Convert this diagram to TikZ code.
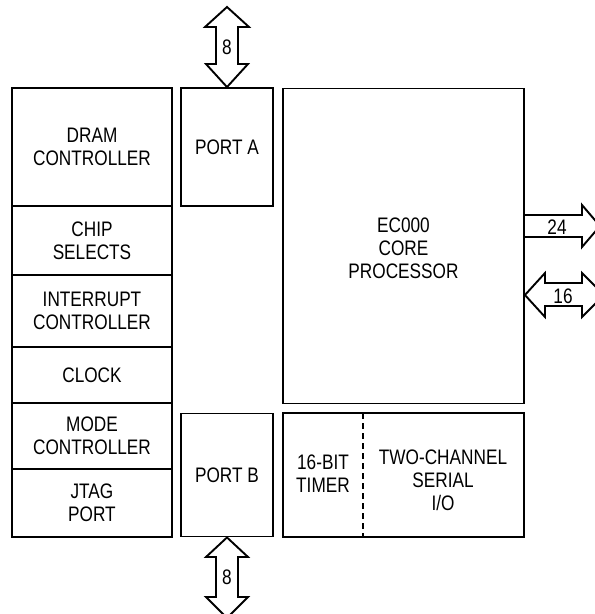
\documentclass[tikz,border=0pt]{standalone}
\usepackage{fontspec}
\setmainfont{Liberation Sans}[FakeStretch=0.82]
\begin{document}
\begin{tikzpicture}[x=1pt,y=-1pt,
  box/.style={draw, line width=1.9pt, rectangle, align=center, inner sep=0pt,
    font=\fontsize{21}{23}\selectfont},
  lbl/.style={font=\fontsize{21}{23}\selectfont, align=center, inner sep=0pt},
  blk/.style={draw, line width=1.9pt, line join=miter},
  num/.style={font=\fontsize{21}{24}\selectfont, inner sep=0pt}]
\useasboundingbox (0,0) rectangle (595,614);
% left column
\node[box, minimum width=160pt, minimum height=118pt] (dram) at (92,147) {DRAM\\CONTROLLER};
\node[box, minimum width=160pt, minimum height=69pt] (cs) at (92,240.5) {CHIP\\SELECTS};
\node[box, minimum width=160pt, minimum height=72pt] (irq) at (92,311) {INTERRUPT\\CONTROLLER};
\node[box, minimum width=160pt, minimum height=56pt] (clk) at (92,375) {CLOCK};
\node[box, minimum width=160pt, minimum height=66pt] (mode) at (92,436) {MODE\\CONTROLLER};
\node[box, minimum width=160pt, minimum height=68pt] (jtag) at (92,503) {JTAG\\PORT};
% ports
\node[box, minimum width=92pt, minimum height=118pt] (pa) at (227,147) {PORT A};
\node[box, minimum width=92pt, minimum height=123pt] (pb) at (227,475) {PORT B};
% core
\node[box, minimum width=241pt, minimum height=315pt] (core) at (403.5,246) {};
\node[lbl] (coret) at (403.5,248) {EC000\\CORE\\PROCESSOR};
% timer / serial
\node[box, minimum width=241pt, minimum height=124pt] (ts) at (403.5,475) {};
\coordinate (dtop) at (363,413);
\coordinate (dbot) at (363,537);
\draw[line width=1.9pt, dash pattern=on 6pt off 4pt] (dtop) -- (dbot);
\node[lbl] (tim) at (323,474) {16-BIT\\TIMER};
\node[lbl] (ser) at (443,480) {TWO-CHANNEL\\SERIAL\\I/O};
% top bus arrow (8)
\draw[blk] (pa.north) -- (206,64) -- (216,64) -- (216,27) -- (205,27) -- (227,7)
  -- (249,27) -- (238,27) -- (238,64) -- (248,64) -- cycle;
\node[num] (n8a) at (227,47) {8};
% bottom bus arrow (8)
\draw[blk] (pb.south) -- (206,557) -- (216,557) -- (216,597) -- (206,597) -- (227,618)
  -- (248,597) -- (238,597) -- (238,557) -- (248,557) -- cycle;
\node[num] (n8b) at (227,577) {8};
% 24 address arrow
\draw[blk] (core.east |- 0,215) -- (582,215) -- (582,205) -- (600,226) -- (582,247) -- (582,237) -- (core.east |- 0,237);
\node[num] (n24) at (557,227) {24};
% 16 data arrow
\draw[blk] (core.east |- 0,295) -- (545,273) -- (545,283) -- (582,283) -- (582,273) -- (604,295)
  -- (582,317) -- (582,306) -- (545,306) -- (545,317) -- cycle;
\node[num] (n16) at (563,296) {16};
\end{tikzpicture}
\end{document}
